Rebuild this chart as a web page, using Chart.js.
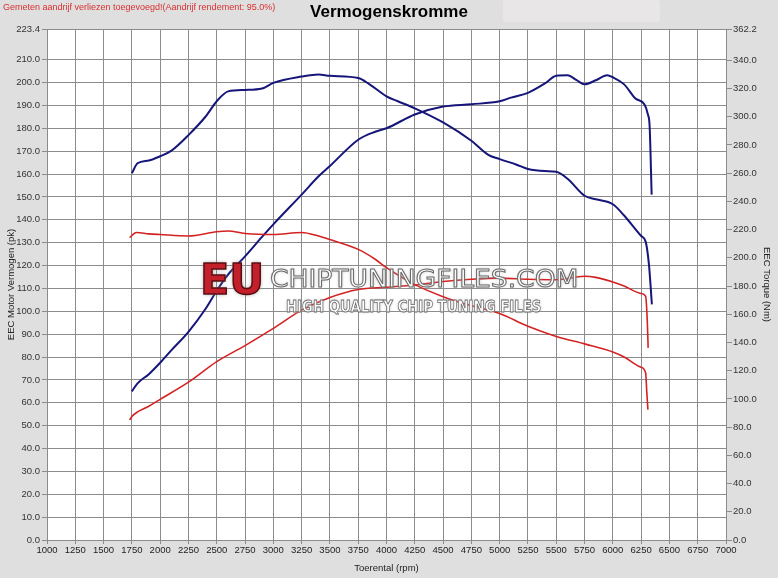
<!DOCTYPE html>
<html>
<head>
<meta charset="utf-8">
<script src="https://cdn.jsdelivr.net/npm/chart.js@4/dist/chart.umd.min.js"></script>
<style>
  html, body { margin: 0; padding: 0; background: #dfdfdf; }
  #wrap { position: relative; width: 778px; height: 578px; overflow: hidden; }
  #chart { position: absolute; left: 0; top: 0; }
  .note { position: absolute; left: 3px; top: 2px; font: 9px "Liberation Sans", Arial, sans-serif; color: #d83030; white-space: nowrap; }
  .legendbox { position: absolute; left: 503px; top: 0; width: 157px; height: 22px; background: #e8e6e7; border-radius: 3px; }
  .wm { position: absolute; white-space: nowrap; transform-origin: 0 0; pointer-events: none; }
  #wmEU { left: 200px; top: 254px; font: bold 43px "DejaVu Sans", sans-serif; color: #c4202c; -webkit-text-stroke: 1.5px #5a0c10; text-shadow: 0 0 4px #999; }
  #wmSite { left: 270px; top: 264px; font: 25px "DejaVu Sans", sans-serif; color: #fff; -webkit-text-stroke: 1px #6a6a6a; text-shadow: 0 0 3px #aaa; }
  #wmSub { left: 286px; top: 297px; font: bold 16px "DejaVu Sans", sans-serif; color: #fff; -webkit-text-stroke: 0.8px #6a6a6a; text-shadow: 0 0 3px #aaa; }
</style>
</head>
<body>
<div id="wrap">
  <canvas id="chart" width="778" height="578"></canvas>
  <div class="legendbox"></div>
  <div class="note">Gemeten aandrijf verliezen toegevoegd!(Aandrijf rendement: 95.0%)</div>
  <div class="wm" id="wmEU">EU</div>
  <div class="wm" id="wmSite" data-w="308">CHIPTUNINGFILES.COM</div>
  <div class="wm" id="wmSub" data-w="255">HIGH QUALITY CHIP TUNING FILES</div>
</div>
<script>
// tuned power (pk, left axis)
const tunedPowerRpm = [1750, 1800, 1900, 2000, 2100, 2250, 2400, 2500, 2600, 2750, 2900, 3000, 3250, 3400, 3500, 3750, 3900, 4000, 4250, 4500, 4750, 5000, 5100, 5250, 5400, 5500, 5600, 5680, 5750, 5850, 5950, 6000, 6100, 6200, 6280, 6310, 6325, 6343];
const tunedPower    = [65, 68.5, 72.5, 77.5, 83, 91, 101, 109, 116, 124, 132.5, 138, 151, 159, 163.5, 175, 178.5, 180, 186, 189.5, 190.5, 191.8, 193.4, 195.5, 199.6, 203, 203.2, 201, 199.2, 201, 203.2, 202.3, 199.2, 193, 190.4, 186, 181, 151];

// tuned torque (Nm, right axis)
const tunedTorqueRpm = [1750, 1800, 1900, 2000, 2100, 2250, 2400, 2500, 2600, 2750, 2900, 3000, 3250, 3400, 3500, 3750, 3850, 4000, 4100, 4250, 4500, 4750, 4900, 5000, 5150, 5250, 5400, 5500, 5600, 5750, 5850, 6000, 6100, 6250, 6290, 6320, 6345];
const tunedTorque    = [260, 267, 269, 272, 276, 287, 300, 311, 318, 319, 320, 324, 328.5, 330, 329, 327.5, 323, 314.5, 311, 306, 296, 283, 273, 270, 266, 263, 261.5, 261, 256, 244, 241.5, 238, 230, 215.5, 211.5, 194.5, 167];

// stock power (pk, left axis)
const stockPowerRpm = [1730, 1750, 1800, 1900, 2000, 2250, 2500, 2750, 3000, 3250, 3500, 3750, 4000, 4250, 4500, 4750, 5000, 5250, 5500, 5750, 5850, 6000, 6100, 6250, 6290, 6305, 6312];
const stockPower    = [52.5, 54, 56, 58.5, 61.5, 69, 78, 85, 92.5, 100.5, 106, 109.5, 110.5, 111.5, 113, 114, 114.5, 114, 113.8, 115.3, 114.8, 112.8, 111, 107.8, 106.5, 95, 84];

// stock torque (Nm, right axis)
const stockTorqueRpm = [1730, 1790, 1900, 2000, 2250, 2500, 2600, 2750, 3000, 3250, 3400, 3500, 3750, 3900, 4000, 4250, 4500, 4750, 5000, 5250, 5500, 5750, 6000, 6100, 6250, 6290, 6300, 6310];
const stockTorque    = [214.3, 218, 217, 216.5, 215.5, 218.5, 219, 217.3, 216.5, 218, 215.5, 213, 206, 199, 193, 181, 172.5, 166, 160.5, 151.5, 144.3, 139, 133.3, 129.7, 122.4, 118.4, 105, 92.4];

const powerTicks  = [0, 10, 20, 30, 40, 50, 60, 70, 80, 90, 100, 110, 120, 130, 140, 150, 160, 170, 180, 190, 200, 210, 223.4];
const torqueTicks = [0, 20, 40, 60, 80, 100, 120, 140, 160, 180, 200, 220, 240, 260, 280, 300, 320, 340, 362.2];

const BLUE = '#16167a';
const RED = '#d42222';
const GRID = '#8c8c8c';
const FONT = 'Liberation Sans';

function pts(xs, ys) {
    return xs.map((x, i) => ({ x: x, y: ys[i] }));
}

function line(data, color, axis, width) {
    return {
        data: data,
        borderColor: color,
        borderWidth: width,
        pointRadius: 0,
        cubicInterpolationMode: 'monotone',
        yAxisID: axis
    };
}

const ctx = document.getElementById('chart').getContext('2d');
new Chart(ctx, {
    type: 'line',
    data: {
        datasets: [
            line(pts(stockPowerRpm, stockPower), RED, 'y', 1.6),
            line(pts(stockTorqueRpm, stockTorque), RED, 'y1', 1.6),
            line(pts(tunedPowerRpm, tunedPower), BLUE, 'y', 2),
            line(pts(tunedTorqueRpm, tunedTorque), BLUE, 'y1', 2)
        ]
    },
    options: {
        responsive: false,
        animation: false,
        layout: { padding: 0 },
        plugins: {
            legend: { display: false },
            tooltip: { enabled: false },
            title: {
                display: true,
                text: 'Vermogenskromme',
                color: '#000',
                font: { family: FONT, size: 17, weight: 'bold' },
                padding: { top: 2, bottom: 6.6 }
            }
        },
        scales: {
            x: {
                type: 'linear',
                min: 1000,
                max: 7000,
                ticks: { stepSize: 250, color: '#222', font: { family: FONT, size: 9.5 }, padding: 1, maxRotation: 0, autoSkip: false, callback: v => String(v) },
                grid: { color: GRID, tickLength: 4 },
                border: { color: GRID },
                title: { display: true, text: 'Toerental (rpm)', color: '#222', font: { family: FONT, size: 9.5 }, padding: { top: 0, bottom: 4 } },
                afterFit: s => { s.height = 38; }
            },
            y: {
                position: 'left',
                min: 0,
                max: 223.4,
                afterBuildTicks: s => { s.ticks = powerTicks.map(v => ({ value: v })); },
                ticks: { color: '#333', font: { family: FONT, size: 9.5 }, padding: 2, callback: v => v.toFixed(1) },
                grid: { color: GRID, tickLength: 5 },
                border: { color: GRID },
                title: { display: true, text: 'EEC Motor Vermogen (pk)', color: '#222', font: { family: FONT, size: 9.5 }, padding: { top: 6, bottom: 0 } },
                afterFit: s => { s.width = 47; }
            },
            y1: {
                position: 'right',
                min: 0,
                max: 362.2,
                afterBuildTicks: s => { s.ticks = torqueTicks.map(v => ({ value: v })); },
                ticks: { color: '#333', font: { family: FONT, size: 9.5 }, padding: 1, callback: v => v.toFixed(1) },
                grid: { drawOnChartArea: false, color: GRID, tickLength: 6 },
                border: { color: GRID },
                title: { display: true, text: 'EEC Torque (Nm)', color: '#222', font: { family: FONT, size: 9.5 }, padding: { top: 6, bottom: 0 } },
                afterFit: s => { s.width = 52; }
            }
        }
    },
    plugins: [{
        id: 'plotBg',
        beforeDraw: chart => {
            const a = chart.chartArea;
            const c = chart.ctx;
            c.save();
            c.fillStyle = '#ffffff';
            c.fillRect(a.left, a.top, a.right - a.left, a.bottom - a.top);
            c.restore();
        }
    }]
});

// stretch watermark words to their width in the picture
document.querySelectorAll('.wm[data-w]').forEach(el => {
    const k = Number(el.dataset.w) / el.offsetWidth;
    el.style.transform = 'scaleX(' + k + ')';
});
</script>
</body>
</html>
